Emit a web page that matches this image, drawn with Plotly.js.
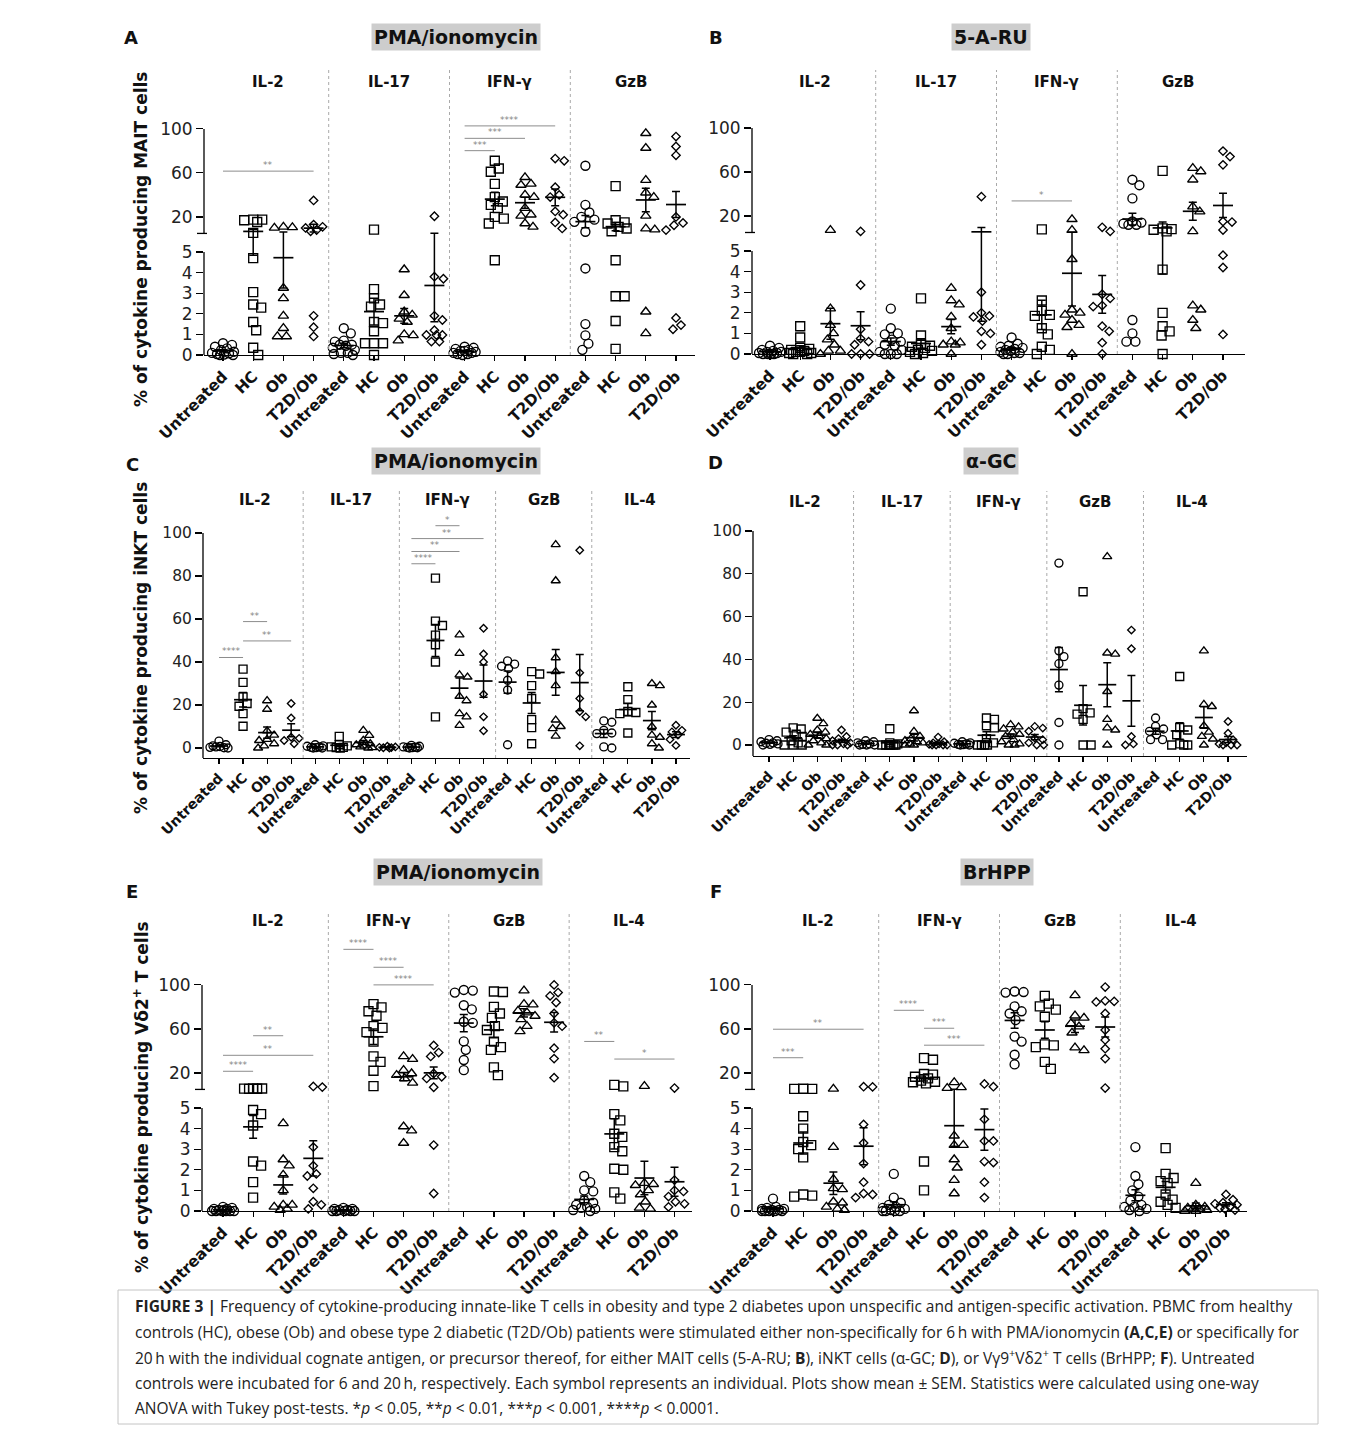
<!DOCTYPE html>
<html><head><meta charset="utf-8">
<script src="https://cdn.plot.ly/plotly-3.0.1.min.js"></script>
<style>html,body{margin:0;padding:0;background:#fff}#chart{width:1360px;height:1448px}</style>
</head><body><div id="chart"></div>
<script>
// ---------------- DATA ----------------
const groups = ['Untreated', 'HC', 'Ob', 'T2D/Ob'];
const cytoAB = ['IL-2', 'IL-17', 'IFN-γ', 'GzB'];
const cytoCD = ['IL-2', 'IL-17', 'IFN-γ', 'GzB', 'IL-4'];
const cytoEF = ['IL-2', 'IFN-γ', 'GzB', 'IL-4'];

// Panel A: MAIT, PMA/ionomycin  [Untreated, HC, Ob, T2D/Ob]
const A_IL2 = [[0.57,0.49,0.4,0.32,0.24,0.16,0.1,0.08,0.05,0.02,0,0],
  [17.6,17,17.6,15.4,5.5,4.7,3.05,2.3,2.45,1.6,1.2,0.35,0],
  [11,10.5,10,3.25,2.75,1.9,1.3,0.9,0.9],
  [35,13,11,10,8,7,1.9,1.35,0.9]];
const A_IL17 = [[1.3,1.05,0.7,0.65,0.5,0.5,0.45,0.35,0.25,0.1,0.1,0.05,0],
  [8.5,3.2,2.75,2.45,2.35,1.6,1.55,1.15,0.57,0.57,0.57,0],
  [4.15,2.9,2.1,1.95,1.75,1.6,1.0,0.95,0.7],
  [20.6,3.8,3.7,1.9,1.7,1.2,0.97,0.97,0.97,0.65,0.65]];
const A_IFNg = [[0.4,0.35,0.3,0.25,0.2,0.2,0.15,0.1,0.1,0.05,0.05,0],
  [71,64,61,50,38,34,31,28,20,18.5,14,4.6],
  [56,50,49,40,38,28,22,21,14,11],
  [73,71,47,40,38,25,22,15,9.5]];
const A_GzB = [[66.5,31,24,20,17.5,15.5,6.5,4.2,1.5,0.95,0.55,0.25],
  [48,17,15,14,11,9.5,7,4.6,2.85,2.85,1.65,0.3],
  [96,82.6,53.4,42,38,21,9.4,8.5,2.1,1.05],
  [93,84,76,20,14.5,12.4,8,1.8,1.45,1.25]];
// significance: [cytokine block, from group, to group, bar level, label]
const A_sig = [[0,0,3,61.6,'**'],[2,0,1,80.2,'***'],[2,0,2,91.4,'***'],[2,0,3,102.7,'****']];

// Panel B: MAIT, 5-A-RU
const B_IL2 = [[0.4,0.3,0.2,0.15,0.1,0.1,0.05,0.05,0,0,0,0],
  [1.35,0.8,0.3,0.25,0.2,0.15,0.1,0.1,0.05,0.05,0,0],
  [7.2,2.2,1.4,1.0,0.7,0.45,0.15,0.15,0],
  [6,3.35,1.2,0.75,0.6,0.45,0,0,0]];
const B_IL17 = [[2.2,1.25,1.0,0.95,0.7,0.6,0.45,0.4,0.2,0.1,0,0,0],
  [2.7,0.9,0.45,0.4,0.35,0.3,0.2,0.15,0.1,0.05,0],
  [3.2,2.6,2.4,1.8,1.25,0.6,0.55,0.45,0.45,0],
  [37.6,3.0,2.0,1.85,1.8,1.6,1.1,1.0,0.45]];
const B_IFNg = [[0.8,0.5,0.4,0.35,0.3,0.25,0.2,0.15,0.1,0.05,0.05,0,0],
  [7.8,2.6,2.1,1.9,1.85,1.25,0.95,0.35,0.2,0],
  [17,7.2,4.6,2.15,2.0,1.9,1.65,1.4,1.3,0],
  [9.7,6,2.9,2.7,2.35,2.3,1.35,1.1,0.55,0]];
const B_GzB = [[53,48,36,15,14,13,12,12,1.65,1.0,0.6,0.6],
  [61,8.8,8,7.5,6,4.1,2.0,1.35,1.1,0.9,0],
  [63.5,60.5,53,28.5,24,6,2.35,2.15,1.65,1.25],
  [79,74,66.5,15,14.5,7.2,4.8,4.2,0.95]];
const B_sig = [[2,0,2,33.7,'*']];

// Panel C: iNKT, PMA/ionomycin
const C_IL2 = [[3.2,1.5,1.0,0.7,0.5,0.3,0.1,0],
  [36.7,30.5,23.8,20.7,19.4,16,10.1],
  [22,18,8,6,4,3.5,2,1,0],
  [20.7,14,5,4.5,3.5,2]];
const C_IL17 = [[1.5,1,0.8,0.5,0.3,0.2,0,0],
  [5.4,1.5,1,0.5,0.3,0.2,0],
  [8.2,5.9,3.6,2,1.5,1,0.5,0.2,0],
  [0.8,0.5,0.3,0.2,0.1,0]];
const C_IFNg = [[1.2,0.8,0.5,0.4,0.3,0.2,0.1,0],
  [79,59,57,52.5,48,40,14.5],
  [52.6,44,34,33,24,22,16,14.5,10.5],
  [55.7,43.7,40,25,14.5,8]];
const C_GzB = [[40.5,39,38,37,31.5,27,1.5],
  [35.5,34.4,29,23,13.2,9.5,2],
  [94.6,77.8,42,35.5,29,13,10,9,5.5],
  [92,35,23,17,14.5,1]];
const C_IL4 = [[12.6,12,8.2,7,6.7,0.5,0],
  [28.5,22.5,17,16.5,16,7],
  [30,29,20,10,6,5,2,0],
  [10.6,8.2,7.5,6,4,1.2]];
const C_sig = [[0,0,1,42.1,'****'],[0,1,2,58.8,'**'],[0,1,3,49.8,'**'],
  [2,0,1,85.7,'****'],[2,0,2,91.4,'**'],[2,0,3,97.4,'**'],[2,1,2,103.4,'*']];

// Panel D: iNKT, alpha-GC
const D_IL2 = [[2.5,2,1.5,1,0.8,0.5,0.3,0],
  [8,7.5,6,5,4,2,1,0,0,0],
  [12.5,10,7,6,5,4,3,2,1,0,0],
  [7,4,3,2,1,0.5,0,0,0]];
const D_IL17 = [[2,1.5,1,0.5,0.3,0,0,0],
  [7.6,1,0.5,0,0,0,0,0,0],
  [16,6.4,4,3,2,1.5,1,0.5,0,0],
  [3.7,1.5,1,0.5,0.3,0,0,0,0]];
const D_IFNg = [[1.5,1,0.8,0.5,0.3,0.2,0,0],
  [12.6,12,9,8,3,1,0,0,0,0],
  [9.5,8.5,7.5,6,5,4,2.5,1.5,0.5,0,0],
  [8.7,7.9,6.4,3.3,2.5,1,0,0]];
const D_GzB = [[85,44,41.3,38,28,10.5,0],
  [71.6,17,15,14.4,12,0,0],
  [88,43,42.5,25,12,8,7,0],
  [53.7,45,4,0.5,0]];
const D_IL4 = [[12.6,8.7,7.5,6.4,4.8,2.5,2.5],
  [32,8.2,7,4.8,0.5,0,0,0],
  [44,19,18,9,6,4,2.8,0],
  [11,5.5,2.5,1,0.5,0,0,0]];
const D_sig = [];

// Panel E: Vd2 T cells, PMA/ionomycin
const E_IL2 = [[0.2,0.15,0.1,0.1,0.05,0.05,0,0,0,0,0,0],
  [6,5.8,5.7,5.6,5.5,4.9,4.7,4.15,2.4,2.2,1.4,0.65],
  [4.25,2.5,2.2,1.75,1.0,0.3,0.3,0.2,0.1,0.05],
  [7.7,7.1,3.1,2.2,1.8,1.7,1.1,0.45,0.3,0.1]];
const E_IFNg = [[0.15,0.1,0.1,0.05,0.05,0,0,0,0,0],
  [82.5,79.5,76,72,62.5,61,57,48.5,35,30,22,8],
  [35,32.5,22.5,19.5,18,15,11,4.1,3.9,3.3],
  [45,38.5,35,19.5,16.5,15,7,3.2,0.85]];
const E_GzB = [[95.4,94.8,93,81.5,77.8,66.5,65.5,48.6,41,31.7,22.5],
  [94,93.5,80,74,70,62.5,59,48.5,43.5,41,25,18],
  [94.8,82.5,82,76.3,74.8,71.7,68.6,62.5,57.8],
  [100,93,90,84,74,65.5,62.5,42.5,33,15.7]];
const E_IL4 = [[1.7,1.4,1.0,0.95,0.5,0.4,0.3,0.2,0.15,0.1,0.05,0],
  [9.2,7.7,4.7,4.4,3.75,3.6,3.1,2.9,2.05,2.0,0.9,0.6],
  [8,1.35,1.3,1.25,1.0,0.8,0.45,0.15,0.1],
  [6.2,1.5,1.0,0.95,0.7,0.45,0.35,0.2]];
const E_sig = [[0,0,1,21.5,'****'],[0,1,2,53.8,'**'],[0,0,3,36,'**'],
  [1,0,1,132.3,'****'],[1,1,2,116,'****'],[1,1,3,100,'****'],
  [3,0,1,48.6,'**'],[3,1,3,32.6,'*']];

// Panel F: Vd2 T cells, BrHPP
const F_IL2 = [[0.6,0.2,0.15,0.1,0.1,0.05,0.05,0,0,0,0,0],
  [5.6,5.5,5.5,4.6,4.0,3.35,3.2,3.0,2.6,0.8,0.75,0.7],
  [5.5,3.1,1.55,1.1,1.05,0.45,0.4,0.2,0.1,0.05],
  [7.5,7.3,4.2,3.3,2.3,1.4,0.85,0.8,0.65]];
const F_IFNg = [[1.8,0.65,0.4,0.3,0.2,0.15,0.1,0.05,0,0,0,0],
  [33.5,32,19,18.5,16.5,15,13,12,11.5,10.5,2.4,1.0],
  [11.4,6.8,6.2,3.65,3.2,3.2,2.5,2.1,1.5,0.85],
  [10,7.5,4.45,3.4,3.4,2.4,2.35,1.4,0.65]];
const F_GzB = [[94,93.5,93,80.5,76,74,68,53,48.5,36.5,27.7],
  [90,83,80.5,77.5,71,46,45,43.5,30,23.7],
  [90.5,72,70,65,62,56.5,43,40.5],
  [98,85.5,85,84.5,74,59,50,42,33,6.2]];
const F_IL4 = [[3.1,1.7,1.3,1.0,0.7,0.5,0.3,0.2,0.2,0.1,0.05,0],
  [3.05,1.8,1.6,1.45,1.35,0.8,0.55,0.45,0.3,0.15],
  [1.35,0.3,0.2,0.15,0.1,0.1,0.05,0,0],
  [0.8,0.55,0.4,0.35,0.3,0.2,0.15,0.1,0.05]];
const F_sig = [[0,0,1,33.8,'***'],[0,0,3,59.7,'**'],[1,0,1,76.9,'****'],[1,1,2,60.6,'***'],[1,1,3,45.2,'***']];

// ---------------- LAYOUT / STYLE ----------------
const W = 1360, H = 1448;
const FONT = 'DejaVu Sans';
const BRK = 5, GAP = 0.9, K = 0.0534;   // broken axis: 0-5 linear, then compressed 5-100
function tf(v) { return v <= BRK ? v : BRK + GAP + (v - BRK) * K; }

const panels = [
  {letter:'A', blocks:[A_IL2,A_IL17,A_IFNg,A_GzB], names:cytoAB, sig:A_sig, broken:true,
   xpx:[204,695], first:223, sp:30.2, ypx:[355,70], yr:[0,13.83], ms:9, xfs:15.5, yfs:17,
   stim:'PMA/ionomycin', stimXY:[456,37.5], letterXY:[131,37], cytoY:82,
   ytitle:'% of cytokine producing MAIT cells', ytitleY:240},
  {letter:'B', blocks:[B_IL2,B_IL17,B_IFNg,B_GzB], names:cytoAB, sig:B_sig, broken:true,
   xpx:[752,1245], first:770, sp:30.2, ypx:[354,70], yr:[0,13.79], ms:9, xfs:15.5, yfs:17,
   stim:'5-A-RU', stimXY:[991,37.5], letterXY:[716,37], cytoY:82},
  {letter:'C', blocks:[C_IL2,C_IL17,C_IFNg,C_GzB,C_IL4], names:cytoCD, sig:C_sig, broken:false,
   xpx:[203,690], first:219, sp:24.05, ypx:[758,490], yr:[-4.65,120], ms:8, xfs:14, yfs:15.5,
   stim:'PMA/ionomycin', stimXY:[456,461], letterXY:[132,464], cytoY:500,
   ytitle:'% of cytokine producing iNKT cells', ytitleY:648},
  {letter:'D', blocks:[D_IL2,D_IL17,D_IFNg,D_GzB,D_IL4], names:cytoCD, sig:D_sig, broken:false,
   xpx:[753,1247], first:769, sp:24.16, ypx:[756,491], yr:[-5.14,118.7], ms:8, xfs:14, yfs:15.5,
   stim:'α-GC', stimXY:[991,461], letterXY:[715,463], cytoY:502},
  {letter:'E', blocks:[E_IL2,E_IFNg,E_GzB,E_IL4], names:cytoEF, sig:E_sig, broken:true,
   xpx:[202,692], first:223, sp:30.1, ypx:[1211,912], yr:[0,14.51], ms:9, xfs:15.5, yfs:17,
   stim:'PMA/ionomycin', stimXY:[458,872], letterXY:[132,891], cytoY:921,
   ytitle:'% of cytokine producing Vδ2<sup>+</sup> T cells', ytitleY:1097},
  {letter:'F', blocks:[F_IL2,F_IFNg,F_GzB,F_IL4], names:cytoEF, sig:F_sig, broken:true,
   xpx:[752,1247], first:773, sp:30.2, ypx:[1211,912], yr:[0,14.51], ms:9, xfs:15.5, yfs:17,
   stim:'BrHPP', stimXY:[997,872], letterXY:[716,891], cytoY:921}
];

function meanSem(a) {
  const n = a.length;
  const m = a.reduce((s, v) => s + v, 0) / n;
  const sd = Math.sqrt(a.reduce((s, v) => s + (v - m) * (v - m), 0) / (n - 1));
  return [m, sd / Math.sqrt(n)];
}

// deterministic beeswarm offsets in pixels
function swarm(tv, ppy, ms, cap) {
  const order = tv.map((v, i) => i).sort((a, b) => tv[b] - tv[a]);
  const placed = [];
  const off = new Array(tv.length).fill(0);
  const D = ms * 0.95;
  const kmax = 2 * Math.floor(cap);
  order.forEach(i => {
    const y = tv[i] * ppy;
    let best = 0, bestD = -1;
    for (let k = 0; k <= kmax; k++) {
      const o = k % 2 ? (k + 1) / 2 : -k / 2;
      let md = Infinity;
      placed.forEach(q => { const d = Math.hypot(o - q[0], y - q[1]); if (d < md) md = d; });
      if (md >= D) { best = o; bestD = md; break; }
      if (md > bestD) { bestD = md; best = o; }
    }
    off[i] = best;
    placed.push([best, y]);
  });
  return off;
}

const traces = [], shapes = [], annotations = [];
const layout = {
  width: W, height: H, margin: {l: 0, r: 0, t: 0, b: 0},
  paper_bgcolor: '#ffffff', plot_bgcolor: 'rgba(0,0,0,0)', showlegend: false,
  font: {family: FONT, color: '#111'}
};

const SYM = ['circle-open', 'square-open', 'triangle-up-open', 'diamond-open'];

panels.forEach((p, pi) => {
  const sfx = pi === 0 ? '' : String(pi + 1);
  const xa = 'x' + sfx, ya = 'y' + sfx;
  const nb = p.blocks.length, n = nb * 4;
  const T = p.broken ? tf : (v => v);
  const ppy = (p.ypx[0] - p.ypx[1]) / (p.yr[1] - p.yr[0]);
  const xr = [(p.xpx[0] - p.first) / p.sp, (p.xpx[1] - p.first) / p.sp];
  const sizes = [p.ms, p.ms, p.ms, p.ms * 0.72];

  const px = [[], [], [], []], py = [[], [], [], []];
  const mx = [], my = [], eu = [], ed = [];
  p.blocks.forEach((blk, b) => {
    blk.forEach((vals, g) => {
      const gi = b * 4 + g;
      const tv = vals.map(T);
      const off = swarm(tv, ppy, p.ms, p.sp * 0.38);
      tv.forEach((v, k) => { px[g].push(gi + off[k] / p.sp); py[g].push(v); });
      const ms = meanSem(vals);
      const tm = T(ms[0]);
      mx.push(gi); my.push(tm);
      eu.push(T(ms[0] + ms[1]) - tm);
      ed.push(tm - T(Math.max(ms[0] - ms[1], 0)));
    });
  });

  // individual points
  for (let g = 0; g < 4; g++) {
    traces.push({
      type: 'scatter', mode: 'markers', x: px[g], y: py[g], xaxis: xa, yaxis: ya,
      cliponaxis: false, hoverinfo: 'skip',
      marker: {symbol: SYM[g], size: sizes[g], color: '#000', line: {width: 1.35, color: '#000'}}
    });
  }
  // mean +/- SEM
  traces.push({
    type: 'scatter', mode: 'markers', x: mx, y: my, xaxis: xa, yaxis: ya,
    cliponaxis: false, hoverinfo: 'skip',
    marker: {symbol: 'line-ew', size: (p.ms === 9 ? 20 : 18) / 1.4, color: '#000', line: {width: 1.7, color: '#000'}},
    error_y: {type: 'data', symmetric: false, array: eu, arrayminus: ed, color: '#000', thickness: 1.5, width: 4}
  });
  // significance bars
  const sx = [], sy = [];
  p.sig.forEach(s => {
    const x0 = s[0] * 4 + s[1], x1 = s[0] * 4 + s[2], yv = T(s[3]);
    sx.push(x0, x1, null); sy.push(yv, yv, null);
    annotations.push({xref: xa, yref: ya, x: (x0 + x1) / 2, y: yv, text: s[4], showarrow: false,
      xanchor: 'center', yanchor: 'bottom', yshift: -1, font: {family: FONT, size: 9, color: '#858585'}});
  });
  if (sx.length) {
    traces.push({type: 'scatter', mode: 'lines', x: sx, y: sy, xaxis: xa, yaxis: ya, hoverinfo: 'skip',
      line: {color: '#8c8c8c', width: 1}});
  }

  // axes
  layout['xaxis' + sfx] = {
    domain: [p.xpx[0] / W, p.xpx[1] / W], range: xr, anchor: ya,
    tickmode: 'array', tickvals: Array.from({length: n}, (_, i) => i),
    ticktext: Array.from({length: n}, (_, i) => groups[i % 4]),
    tickangle: -45, ticks: 'outside', ticklen: 5, tickwidth: 1.2, tickcolor: '#000',
    showline: true, linecolor: '#000', linewidth: 1.3, showgrid: false, zeroline: false,
    tickfont: {family: FONT, size: p.xfs, color: '#111', weight: 'bold'}, fixedrange: true
  };
  let tvals;
  if (p.broken) {
    tvals = [0, 1, 2, 3, 4, 5, tf(20), tf(60), tf(100)];
  } else {
    tvals = [0, 20, 40, 60, 80, 100];
  }
  const ttext = p.broken ? ['0', '1', '2', '3', '4', '5', '20', '60', '100'] : tvals.map(String);
  layout['yaxis' + sfx] = {
    domain: [1 - p.ypx[0] / H, 1 - p.ypx[1] / H], range: p.yr, anchor: xa,
    tickmode: 'array', tickvals: tvals, ticktext: ttext,
    ticks: 'outside', ticklen: 7, tickwidth: 1.2, tickcolor: '#000',
    showline: false, showgrid: false, zeroline: false,
    tickfont: {family: FONT, size: p.yfs, color: '#222'}, fixedrange: true
  };
  // y-axis line(s)
  const xl = p.xpx[0] / W;
  const segs = p.broken ? [[0, BRK], [BRK + GAP, tf(100)]] : [[p.yr[0], 100]];
  segs.forEach(sg => shapes.push({type: 'line', xref: 'paper', yref: ya, x0: xl, x1: xl, y0: sg[0], y1: sg[1],
    line: {color: '#000', width: 1.3}}));
  if (p.broken) {
    // end mark of the upper segment at the axis break
    shapes.push({type: 'line', xref: 'paper', yref: ya, x0: (p.xpx[0] - 7) / W, x1: (p.xpx[0] + 3) / W,
      y0: BRK + GAP, y1: BRK + GAP, line: {color: '#000', width: 1.3}});
  }
  // block dividers
  for (let j = 1; j < nb; j++) {
    shapes.push({type: 'line', xref: xa, yref: ya + ' domain', x0: 4 * j - 0.5, x1: 4 * j - 0.5, y0: 0, y1: 1,
      line: {color: '#a9a9a9', width: 1, dash: 'dot'}});
  }
  // cytokine labels
  p.names.forEach((nm, j) => annotations.push({xref: xa, yref: 'paper', x: 4 * j + 1.5, y: 1 - p.cytoY / H,
    text: nm, showarrow: false, xanchor: 'center', yanchor: 'middle',
    font: {family: FONT, size: 15, color: '#111', weight: 'bold'}}));
  // stimulus title
  annotations.push({xref: 'paper', yref: 'paper', x: p.stimXY[0] / W, y: 1 - p.stimXY[1] / H,
    text: p.stim, showarrow: false, xanchor: 'center', yanchor: 'middle', bgcolor: '#cdcdcd', borderpad: 2,
    font: {family: FONT, size: 19, color: '#111', weight: 'bold'}});
  // panel letter
  annotations.push({xref: 'paper', yref: 'paper', x: p.letterXY[0] / W, y: 1 - p.letterXY[1] / H,
    text: p.letter, showarrow: false, xanchor: 'center', yanchor: 'middle',
    font: {family: FONT, size: 18, color: '#111', weight: 'bold'}});
  // y title
  if (p.ytitle) {
    annotations.push({xref: 'paper', yref: 'paper', x: 141 / W, y: 1 - p.ytitleY / H, text: p.ytitle,
      textangle: -90, showarrow: false, xanchor: 'center', yanchor: 'middle',
      font: {family: FONT, size: 17, color: '#111', weight: 'bold'}});
  }
});

// caption
const captionLines = [
  '<b>FIGURE 3 |</b> Frequency of cytokine-producing innate-like T cells in obesity and type 2 diabetes upon unspecific and antigen-specific activation. PBMC from healthy',
  'controls (HC), obese (Ob) and obese type 2 diabetic (T2D/Ob) patients were stimulated either non-specifically for 6\u2009h with PMA/ionomycin <b>(A,C,E)</b> or specifically for',
  '20\u2009h with the individual cognate antigen, or precursor thereof, for either MAIT cells (5-A-RU; <b>B</b>), iNKT cells (α-GC; <b>D</b>), or Vγ9<sup>+</sup>Vδ2<sup>+</sup> T cells (BrHPP; <b>F</b>). Untreated',
  'controls were incubated for 6 and 20\u2009h, respectively. Each symbol represents an individual. Plots show mean ± SEM. Statistics were calculated using one-way',
  'ANOVA with Tukey post-tests. *<i>p</i> &lt; 0.05, **<i>p</i> &lt; 0.01, ***<i>p</i> &lt; 0.001, ****<i>p</i> &lt; 0.0001.'
];
const capY = [1306, 1331.5, 1357, 1382.5, 1408];
captionLines.forEach((t, i) => annotations.push({xref: 'paper', yref: 'paper', x: 133 / W, y: 1 - capY[i] / H,
  text: t, showarrow: false, xanchor: 'left', yanchor: 'middle', align: 'left',
  font: {family: 'Open Sans', size: 15.5, color: '#222'}}));
shapes.push({type: 'rect', xref: 'paper', yref: 'paper', x0: 118 / W, x1: 1318 / W, y0: 1 - 1424 / H, y1: 1 - 1290 / H,
  line: {color: '#c4c4c4', width: 1}, fillcolor: 'rgba(0,0,0,0)'});

layout.shapes = shapes;
layout.annotations = annotations;
Plotly.newPlot('chart', traces, layout, {displayModeBar: false, staticPlot: true});
</script>
</body></html>
